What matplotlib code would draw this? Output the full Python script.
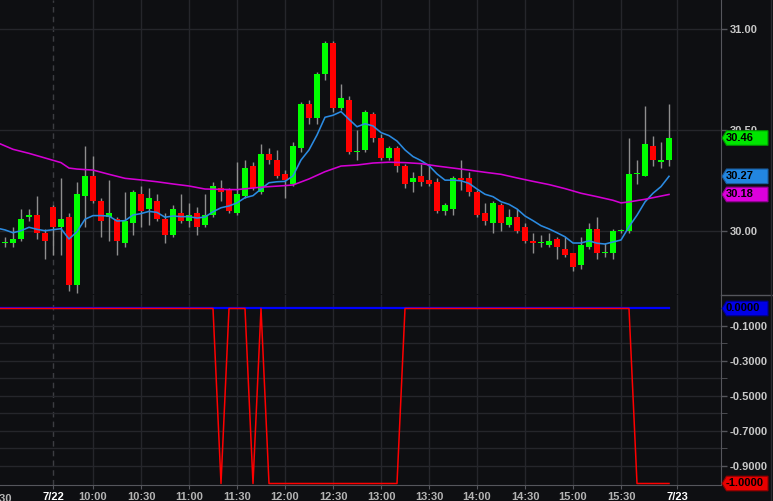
import matplotlib
matplotlib.use('Agg')
import matplotlib.pyplot as plt
from matplotlib.patches import Polygon
from matplotlib.lines import Line2D

plt.rcParams['font.family'] = ['Liberation Sans', 'DejaVu Sans']

# 5-minute bars: prior day 15:35-16:00, then 7/22 09:35-16:00
opens = [29.94, 29.94, 29.96, 30.07, 30.08, 29.99, 30.12, 30.02, 30.07, 29.73,
         30.17, 30.27, 30.15, 30.07, 30.06, 29.94, 30.04, 30.18, 30.11, 30.15,
         30.06, 29.98, 30.09, 30.05, 30.09, 30.03, 30.08, 30.21, 30.20, 30.09,
         30.17, 30.32, 30.19, 30.38, 30.35, 30.28, 30.23, 30.41, 30.63, 30.56,
         30.78, 30.93, 30.61, 30.65, 30.39, 30.40, 30.58, 30.46, 30.36, 30.41,
         30.32, 30.24, 30.27, 30.25, 30.24, 30.10, 30.11, 30.26, 30.26, 30.19,
         30.09, 30.04, 30.13, 30.03, 30.07, 30.02, 29.95, 29.94, 29.93, 29.96,
         29.91, 29.89, 29.83, 29.92, 30.01, 29.89, 29.89, 30.00, 30.00, 30.28,
         30.27, 30.42, 30.34, 30.35]
highs = [29.97, 30.02, 30.11, 30.11, 30.17, 30.01, 30.13, 30.26, 30.09, 30.24,
         30.42, 30.37, 30.16, 30.25, 30.07, 30.19, 30.20, 30.22, 30.21, 30.18,
         30.09, 30.13, 30.18, 30.14, 30.12, 30.18, 30.24, 30.25, 30.21, 30.34,
         30.35, 30.34, 30.43, 30.41, 30.40, 30.30, 30.44, 30.64, 30.65, 30.79,
         30.94, 30.94, 30.73, 30.67, 30.50, 30.60, 30.59, 30.48, 30.42, 30.42,
         30.33, 30.29, 30.33, 30.33, 30.26, 30.14, 30.27, 30.35, 30.29, 30.20,
         30.14, 30.15, 30.14, 30.11, 30.11, 30.04, 29.99, 29.98, 29.99, 29.97,
         29.97, 29.89, 29.97, 30.04, 30.07, 29.94, 30.01, 30.01, 30.46, 30.35,
         30.62, 30.47, 30.44, 30.63]
lows = [29.92, 29.92, 29.95, 30.05, 29.96, 29.86, 29.88, 29.88, 29.70, 29.69,
        30.02, 30.14, 29.97, 29.95, 29.88, 29.92, 29.98, 30.02, 30.03, 30.05,
        29.94, 29.97, 30.04, 30.02, 29.98, 30.02, 30.07, 30.15, 30.09, 30.08,
        30.16, 30.20, 30.18, 30.33, 30.26, 30.16, 30.22, 30.39, 30.53, 30.53,
        30.75, 30.59, 30.60, 30.38, 30.35, 30.39, 30.44, 30.35, 30.35, 30.29,
        30.21, 30.19, 30.22, 30.22, 30.09, 30.08, 30.08, 30.20, 30.17, 30.07,
        30.03, 29.99, 30.00, 30.02, 29.99, 29.94, 29.89, 29.92, 29.92, 29.86,
        29.87, 29.80, 29.81, 29.91, 29.86, 29.87, 29.86, 29.99, 29.99, 30.23,
        30.27, 30.32, 30.31, 30.32]
closes = [29.94, 29.96, 30.06, 30.07, 29.99, 29.95, 30.02, 30.06, 29.73, 30.18,
          30.27, 30.15, 30.05, 30.09, 29.95, 30.05, 30.19, 30.10, 30.16, 30.06,
          29.98, 30.11, 30.05, 30.08, 30.02, 30.08, 30.22, 30.19, 30.10, 30.18,
          30.31, 30.21, 30.38, 30.35, 30.27, 30.25, 30.42, 30.63, 30.56, 30.78,
          30.93, 30.61, 30.66, 30.39, 30.39, 30.59, 30.46, 30.36, 30.41, 30.32,
          30.23, 30.26, 30.24, 30.23, 30.10, 30.13, 30.26, 30.25, 30.19, 30.08,
          30.05, 30.14, 30.04, 30.07, 30.00, 29.95, 29.94, 29.94, 29.95, 29.92,
          29.88, 29.82, 29.93, 30.01, 29.89, 29.89, 30.00, 30.00, 30.28, 30.28,
          30.43, 30.35, 30.35, 30.46]

# fast average (blue), one value per bar starting one bar left of the first candle
fast_ma = [30.013, 30.004, 29.990, 30.000, 30.017, 30.007, 30.000, 30.005, 30.010, 29.959,
           29.995, 30.057, 30.075, 30.075, 30.073, 30.048, 30.050, 30.078, 30.085, 30.096,
           30.091, 30.067, 30.073, 30.070, 30.070, 30.063, 30.068, 30.094, 30.114, 30.123,
           30.138, 30.164, 30.174, 30.207, 30.238, 30.243, 30.245, 30.272, 30.351, 30.401,
           30.475, 30.563, 30.573, 30.591, 30.553, 30.516, 30.531, 30.520, 30.487, 30.472,
           30.445, 30.401, 30.368, 30.348, 30.323, 30.282, 30.251, 30.251, 30.248, 30.235,
           30.207, 30.181, 30.169, 30.144, 30.131, 30.108, 30.073, 30.050, 30.025, 30.009,
           29.990, 29.970, 29.939, 29.939, 29.950, 29.938, 29.934, 29.944, 29.954, 30.020,
           30.077, 30.143, 30.186, 30.219, 30.270]

# slow average (magenta), read at these bars
slow_idx = [-1, 1, 3, 5, 7, 8, 9, 11, 13, 15, 17, 19, 21, 23, 25, 27, 29, 32, 35, 36,
            38, 40, 42, 44, 46, 48, 50, 52, 54, 56, 58, 60, 62, 64, 66, 68, 70, 72, 74, 76,
            77, 78, 80, 82, 83]
slow_ma = [30.438, 30.404, 30.384, 30.361, 30.338, 30.311, 30.306, 30.301, 30.280, 30.260,
           30.252, 30.243, 30.232, 30.222, 30.207, 30.205, 30.204, 30.216, 30.224, 30.227,
           30.257, 30.293, 30.321, 30.326, 30.336, 30.340, 30.338, 30.333, 30.321, 30.311,
           30.301, 30.290, 30.280, 30.262, 30.245, 30.229, 30.209, 30.186, 30.169, 30.151,
           30.138, 30.143, 30.156, 30.172, 30.180]

# lower indicator, one value per bar starting one bar left of the first candle
signal_red = [0, 0, 0, 0, 0, 0, 0, 0, 0, 0,
              0, 0, 0, 0, 0, 0, 0, 0, 0, 0,
              0, 0, 0, 0, 0, 0, 0, 0, -1, 0,
              0, 0, -1, 0, -1, -1, -1, -1, -1, -1,
              -1, -1, -1, -1, -1, -1, -1, -1, -1, -1,
              -1, 0, 0, 0, 0, 0, 0, 0, 0, 0,
              0, 0, 0, 0, 0, 0, 0, 0, 0, 0,
              0, 0, 0, 0, 0, 0, 0, 0, 0, 0,
              -1, -1, -1, -1, -1]
signal_blue = [0, 0, 0, 0, 0, 0, 0, 0, 0, 0,
               0, 0, 0, 0, 0, 0, 0, 0, 0, 0,
               0, 0, 0, 0, 0, 0, 0, 0, 0, 0,
               0, 0, 0, 0, 0, 0, 0, 0, 0, 0,
               0, 0, 0, 0, 0, 0, 0, 0, 0, 0,
               0, 0, 0, 0, 0, 0, 0, 0, 0, 0,
               0, 0, 0, 0, 0, 0, 0, 0, 0, 0,
               0, 0, 0, 0, 0, 0, 0, 0, 0, 0,
               0, 0, 0, 0, 0]

time_ticks = [11, 17, 23, 29, 35, 41, 47, 53, 59, 65, 71, 77]
time_labels = ['10:00', '10:30', '11:00', '11:30', '12:00', '12:30',
               '13:00', '13:30', '14:00', '14:30', '15:00', '15:30']
date_ticks = [6, 84]
date_labels = ['7/22', '7/23']

bg = '#0e0f12'
grid = '#25262b'
axis_col = '#55565c'
label_col = '#c8c8c8'
up_col = '#00ff00'
down_col = '#ff0000'

W, H = 773, 501
fig = plt.figure(figsize=(W / 100, H / 100), dpi=100, facecolor=bg)
ax1 = fig.add_axes([0, 207 / H, 721 / W, 294 / H], facecolor=bg)
ax2 = fig.add_axes([0, 16 / H, 721 / W, 190 / H], facecolor=bg)

n = len(closes)
xs = list(range(n))
x_ind = list(range(-1, n))

for ax in (ax1, ax2):
    ax.set_xlim(-0.625, 89.5)
    for s in ax.spines.values():
        s.set_visible(False)
    ax.spines['right'].set_visible(True)
    ax.spines['right'].set_color(axis_col)
    for t in time_ticks + [84]:
        ax.axvline(t, color=grid, lw=1, zorder=0)
    ax.axvline(6, color='#3c3d42', lw=1, ls=(0, (4, 3)), zorder=0)
    ax.yaxis.tick_right()
    ax.tick_params(axis='y', colors=axis_col, labelcolor=label_col, length=4,
                   width=1, pad=2, labelsize=8)

# price panel
ax1.set_ylim(29.686, 31.145)
for lvl in [30.0, 30.5, 31.0]:
    ax1.axhline(lvl, color=grid, lw=1, zorder=0)
ax1.set_yticks([30.0, 30.5, 31.0])
ax1.set_yticklabels(['30.00', '30.50', '31.00'], fontweight='bold')
ax1.set_xticks([])

colors = [up_col if c >= o else down_col for o, c in zip(opens, closes)]
bottoms = [min(o, c) for o, c in zip(opens, closes)]
heights = [max(abs(c - o), 0.006) for o, c in zip(opens, closes)]
ax1.vlines(xs, lows, highs, color='#8e8e8e', lw=1, zorder=2)
ax1.bar(xs, heights, bottom=bottoms, width=0.68, color=colors, zorder=3)
ax1.plot(x_ind, fast_ma, color='#2b8be2', lw=1.15, zorder=4)
ax1.plot(slow_idx, slow_ma, color='#d400d4', lw=1.15, zorder=4)

# indicator panel
ax2.set_ylim(-1.0086, 0.077)
for lvl in [-0.1, -0.2, -0.3, -0.4, -0.5, -0.6, -0.7, -0.8, -0.9]:
    ax2.axhline(lvl, color=grid, lw=1, zorder=0)
ax2.spines['bottom'].set_visible(True)
ax2.spines['bottom'].set_color(axis_col)
ax2.set_yticks([-0.1, -0.3, -0.5, -0.7, -0.9])
ax2.set_yticklabels(['-0.1000', '-0.3000', '-0.5000', '-0.7000', '-0.9000'],
                    fontweight='bold')
ax2.set_yticks([-0.2, -0.4, -0.6, -0.8], minor=True)
ax2.tick_params(axis='y', which='minor', colors=axis_col, length=4)
ax2.plot(x_ind, signal_blue, color='#0000ff', lw=1.6, zorder=3)
ax2.plot(x_ind, signal_red, color='#ff0000', lw=1.1, zorder=4)

ax2.set_xticks(date_ticks + time_ticks)
ax2.set_xticklabels(date_labels + time_labels)
ax2.tick_params(axis='x', colors=axis_col, length=3, pad=2, labelsize=8)
for lab in ax2.get_xticklabels():
    lab.set_fontweight('bold')
    lab.set_color('white' if '/' in lab.get_text() else '#b4b4b4')
# previous-day 15:30 label, cut by the left edge
ax2.text(-1, -0.047, '15:30', transform=ax2.get_xaxis_transform(), ha='center',
         va='top', fontsize=8, fontweight='bold', color='#b4b4b4', clip_on=False)

# separator on the price scale
fig.add_artist(Line2D([721 / W, 1], [206.5 / H, 206.5 / H], transform=fig.transFigure,
                      color=axis_col, lw=1))
fig.add_artist(Line2D([770.5 / W, 770.5 / W], [0, 1], transform=fig.transFigure,
                      color='#2a2b30', lw=1))


def value_tag(ax, value, text, fc, ec):
    yd = ax.transData.transform((0, value))[1]
    yc = yd / fig.bbox.height * H
    hh = 7.3
    pts = [(722, yc), (726.5, yc - hh), (768, yc - hh), (768, yc + hh), (726.5, yc + hh)]
    poly = Polygon([(px / W, py / H) for px, py in pts], closed=True,
                   transform=fig.transFigure, fc=fc, ec=ec, lw=0.8)
    fig.add_artist(poly)
    fig.text(726 / W, yc / H, text, ha='left', va='center', color='black',
             fontsize=8, fontweight='bold')


value_tag(ax1, closes[-1], '%.2f' % closes[-1], '#00e600', '#009000')
value_tag(ax1, fast_ma[-1], '%.2f' % fast_ma[-1], '#2286e0', '#1a5ea0')
value_tag(ax1, slow_ma[-1], '%.2f' % slow_ma[-1], '#dc00dc', '#900090')
value_tag(ax2, signal_blue[-1], '%.4f' % signal_blue[-1], '#0000e8', '#000090')
value_tag(ax2, signal_red[-1], '%.4f' % signal_red[-1], '#e80000', '#900000')

fig.savefig('out.png', dpi=100, facecolor=bg)
